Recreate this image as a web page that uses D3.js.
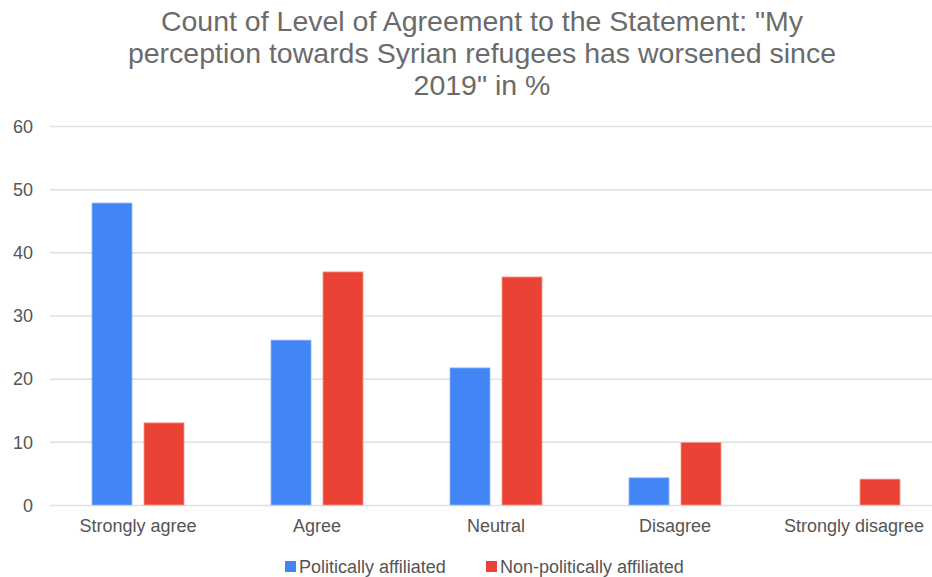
<!DOCTYPE html>
<html>
<head>
<meta charset="utf-8">
<script src="https://cdn.jsdelivr.net/npm/d3@7"></script>
<style>
  html, body { margin: 0; padding: 0; background: #fff; }
  svg { display: block; font-family: "Liberation Sans", Arial, sans-serif; }
</style>
</head>
<body>
<svg id="chart" width="932" height="577"></svg>
<script>
// Survey responses (% of each group)
const categories = ["Strongly agree", "Agree", "Neutral", "Disagree", "Strongly disagree"];
const seriesNames = ["Politically affiliated", "Non-politically affiliated"];
const politicallyAffiliated = [47.8, 26.1, 21.7, 4.3, 0];
const nonPoliticallyAffiliated = [13.0, 36.9, 36.1, 9.9, 4.1];
const yTicks = [0, 10, 20, 30, 40, 50, 60];
const titleLines = [
  "Count of Level of Agreement to the Statement: \"My",
  "perception towards Syrian refugees has worsened since",
  "2019\" in %"
];
const colors = ["#4285F4", "#EA4335"];

const seriesValues = [politicallyAffiliated, nonPoliticallyAffiliated];
const rows = categories.map((c, i) => ({
  category: c,
  values: seriesNames.map((s, j) => ({ series: s, index: j, value: seriesValues[j][i] }))
}));

const svg = d3.select("#chart");
const plot = { left: 50, right: 932, top: 126, bottom: 505 };

const x = d3.scaleBand()
  .domain(categories)
  .range([48.5, 943.5])
  .padding(0);

const x1 = d3.scaleBand()
  .domain(seriesNames)
  .range([-46, 46])
  .paddingInner(0.2308)
  .paddingOuter(0);

const y = d3.scaleLinear()
  .domain([0, 60])
  .range([plot.bottom, plot.top]);

// Title
const title = svg.append("text")
  .attr("x", 482)
  .attr("text-anchor", "middle")
  .attr("fill", "#6b6b6b")
  .style("font-size", "28.5px");
titleLines.forEach((line, i) => {
  title.append("tspan")
    .attr("x", 482)
    .attr("y", 31 + i * 32)
    .text(line);
});

// Gridlines and value axis
const yAxis = d3.axisLeft(y)
  .tickValues(yTicks)
  .tickSize(-(plot.right - plot.left))
  .tickPadding(17);

const gy = svg.append("g")
  .attr("transform", `translate(${plot.left},0)`)
  .call(yAxis);
gy.select(".domain").remove();
gy.selectAll(".tick line")
  .attr("stroke", "#e0e0e0")
  .attr("stroke-width", 1.5);
gy.selectAll(".tick text")
  .attr("fill", "#555")
  .style("font-size", "18px")
  .style("font-family", "'Liberation Sans', Arial, sans-serif")
  .attr("dy", "0.35em");

// Bars
const groups = svg.append("g")
  .selectAll("g")
  .data(rows)
  .join("g")
  .attr("transform", d => `translate(${x(d.category) + x.bandwidth() / 2},0)`);

groups.selectAll("rect")
  .data(d => d.values.filter(v => v.value > 0))
  .join("rect")
  .attr("x", v => x1(v.series))
  .attr("width", x1.bandwidth())
  .attr("y", v => y(v.value))
  .attr("height", v => y(0) - y(v.value))
  .attr("fill", v => colors[v.index])
  .attr("stroke", v => v.index === 0 ? "#8fb6f8" : "#f39a92")
  .attr("stroke-width", 0.8);

// Category labels
const xAxis = d3.axisBottom(x).tickSize(0).tickPadding(14);
const gx = svg.append("g")
  .attr("transform", `translate(0,${plot.bottom})`)
  .call(xAxis);
gx.select(".domain").remove();
gx.selectAll(".tick text")
  .attr("fill", "#555")
  .style("font-size", "18px")
  .style("font-family", "'Liberation Sans', Arial, sans-serif");

// Legend
const legendItems = [
  { name: seriesNames[0], color: colors[0], x: 285 },
  { name: seriesNames[1], color: colors[1], x: 486 }
];
const legend = svg.append("g");
legendItems.forEach(item => {
  legend.append("rect")
    .attr("x", item.x)
    .attr("y", 561)
    .attr("width", 11)
    .attr("height", 11)
    .attr("fill", item.color);
  legend.append("text")
    .attr("x", item.x + 14)
    .attr("y", 573)
    .attr("fill", "#555")
    .style("font-size", "18px")
    .text(item.name);
});
</script>
</body>
</html>
